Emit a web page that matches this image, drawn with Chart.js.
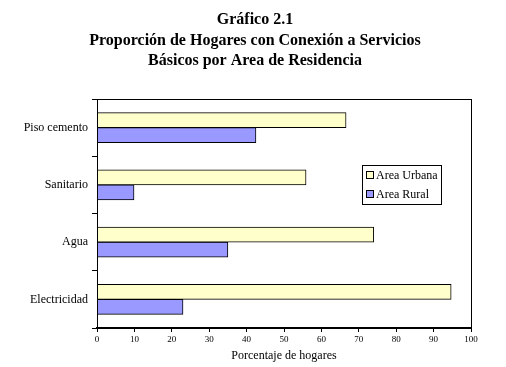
<!DOCTYPE html>
<html>
<head>
<meta charset="utf-8">
<script src="https://cdn.jsdelivr.net/npm/chart.js@4/dist/chart.umd.min.js"></script>
<style>
  html, body { margin: 0; padding: 0; background: #fff; }
  #wrap { width: 506px; height: 367px; }
</style>
</head>
<body>
<div id="wrap"><canvas id="ch"></canvas></div>
<script>
const categorias = ['Piso cemento', 'Sanitario', 'Agua', 'Electricidad'];
const urbana = [66.6, 55.9, 74.0, 94.7];
const rural = [42.5, 9.9, 35.0, 23.0];
const xTicks = [0, 10, 20, 30, 40, 50, 60, 70, 80, 90, 100];
const titulo = ['Gráfico 2.1', 'Proporción de Hogares con Conexión a Servicios', 'Básicos por Area de Residencia'];

const FUENTE = '"Liberation Serif", "Times New Roman", serif';
Chart.defaults.font.family = FUENTE;
Chart.defaults.color = '#000';

// titulo centrado en la pagina, marco del area de trazado y leyenda dentro del grafico
const marco = {
  id: 'marco',
  afterDraw(chart) {
    const { ctx, chartArea: a } = chart;
    ctx.save();

    ctx.fillStyle = '#000';
    ctx.font = 'bold 16px ' + FUENTE;
    ctx.textAlign = 'center';
    ctx.textBaseline = 'middle';
    titulo.forEach((t, i) => ctx.fillText(t, 255, 20 + i * 20.5));

    ctx.strokeStyle = '#000';
    ctx.lineWidth = 1;
    ctx.strokeRect(Math.round(a.left) + 0.5, Math.round(a.top) + 0.5, Math.round(a.right - a.left), Math.round(a.bottom - a.top));

    // leyenda
    const bx = 362.5, by = 165.5, bw = 79, bh = 39;
    ctx.fillStyle = '#fff';
    ctx.fillRect(bx, by, bw, bh);
    ctx.strokeRect(bx, by, bw, bh);
    ctx.font = '12px ' + FUENTE;
    ctx.textAlign = 'left';
    chart.data.datasets.forEach((ds, i) => {
      const y = 175 + i * 19;
      ctx.fillStyle = ds.backgroundColor;
      ctx.fillRect(366.5, y - 3.5, 7, 7);
      ctx.strokeRect(366.5, y - 3.5, 7, 7);
      ctx.fillStyle = '#000';
      ctx.fillText(ds.label, 376, y + 0.5);
    });
    ctx.restore();
  }
};

new Chart(document.getElementById('ch'), {
  type: 'bar',
  data: {
    labels: categorias,
    datasets: [
      { label: 'Area Urbana', data: urbana, backgroundColor: '#FFFFCC', borderColor: '#000', borderWidth: 1, barThickness: 15 },
      { label: 'Area Rural', data: rural, backgroundColor: '#9999FF', borderColor: '#000', borderWidth: 1, barThickness: 15 }
    ]
  },
  options: {
    indexAxis: 'y',
    responsive: true,
    maintainAspectRatio: false,
    animation: false,
    layout: { padding: { left: 0, right: 35, top: 99, bottom: 0 } },
    plugins: {
      legend: { display: false },
      tooltip: { enabled: false },
      title: { display: false }
    },
    scales: {
      x: {
        min: 0, max: 100,
        afterBuildTicks: (s) => { s.ticks = xTicks.map(v => ({ value: v })); },
        afterFit: (s) => { s.height = 39; },
        grid: { drawOnChartArea: false, color: '#000', tickLength: 4 },
        border: { color: '#000', width: 2 },
        ticks: { font: { size: 9 }, padding: 2, maxRotation: 0 },
        title: { display: true, text: 'Porcentaje de hogares', font: { size: 12 }, padding: { top: 2, bottom: 4 } }
      },
      y: {
        offset: true,
        afterFit: (s) => { s.width = 97; },
        grid: { offset: true, drawOnChartArea: false, color: '#000', tickLength: 5 },
        border: { color: '#000', width: 1 },
        ticks: { font: { size: 12 }, padding: 4 }
      }
    }
  },
  plugins: [marco]
});
</script>
</body>
</html>
